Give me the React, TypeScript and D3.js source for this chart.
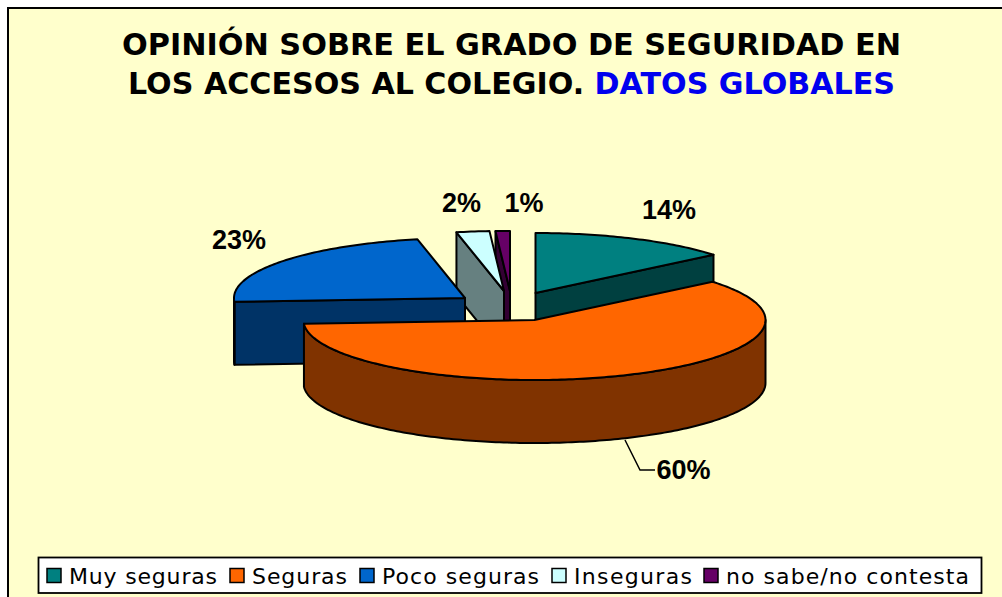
import React from "react";
import * as d3 from "d3";

const categories = ["Muy seguras", "Seguras", "Poco seguras", "Inseguras", "no sabe/no contesta"];
const values = [14, 60, 22.7, 2.3, 1];
const topColors = ["#008080", "#FF6600", "#0066CC", "#CCFFFF", "#660066"];
const sideColors = ["#004040", "#803300", "#003366", "#668080", "#330033"];

const titleLine1 = "OPINIÓN SOBRE EL GRADO DE SEGURIDAD EN";
const titleLine2a = "LOS ACCESOS AL COLEGIO. ";
const titleLine2b = "DATOS GLOBALES";

const W = 1002;
const H = 597;
const RX = 231;
const RY = 60;
const DEPTH = 63;
const centers: [number, number][] = [[535.5, 293], [534.5, 320], [465, 298], [504, 291], [510, 291]];
const paintOrder = [0, 4, 3, 2, 1];
const labelPos: [number, number][] = [[669, 219], [683.5, 479], [239, 249], [461.5, 212], [524, 212]];
const legendSwatchX = [47, 230, 360, 552, 704];
const legendTextX = [69, 252, 382, 574, 726];
const legendTextW = [148, 95, 157, 118, 243];

const arcs = d3
  .pie<number>()
  .sort(null)
  .value((d) => d)(values);

const line = d3
  .line<[number, number]>()
  .x((d) => d[0])
  .y((d) => d[1]);

const rimPoint = (c: [number, number], a: number, dy = 0): [number, number] => [
  c[0] + RX * Math.sin(a),
  c[1] - RY * Math.cos(a) + dy,
];

const sample = (a0: number, a1: number) => {
  const n = Math.max(2, Math.ceil(((a1 - a0) / Math.PI) * 180));
  return d3.range(n + 1).map((i) => a0 + ((a1 - a0) * i) / n);
};

function Slice({ i }: { i: number }) {
  const { startAngle: a0, endAngle: a1 } = arcs[i];
  const c = centers[i];
  const stroke = { stroke: "#000", strokeWidth: 2, strokeLinejoin: "round" as const };
  const walls: string[] = [];
  const edge = (a: number) =>
    line([c, rimPoint(c, a), rimPoint(c, a, DEPTH), [c[0], c[1] + DEPTH]]) + "Z";
  if (Math.sin(a0) < -1e-6) walls.push(edge(a0));
  if (Math.sin(a1) > 1e-6) walls.push(edge(a1));
  const r0 = Math.max(a0, Math.PI / 2);
  const r1 = Math.min(a1, (3 * Math.PI) / 2);
  if (r1 > r0) {
    const angles = sample(r0, r1);
    const top = angles.map((a) => rimPoint(c, a));
    const bottom = angles.map((a) => rimPoint(c, a, DEPTH)).reverse();
    walls.push(line([...top, ...bottom]) + "Z");
  }
  const face = line([c, ...sample(a0, a1).map((a) => rimPoint(c, a))]) + "Z";
  return (
    <g>
      {walls.map((d, k) => (
        <path key={k} d={d} fill={sideColors[i]} {...stroke} />
      ))}
      <path d={face} fill={topColors[i]} {...stroke} />
    </g>
  );
}

export default function App() {
  const labelFont = { fontFamily: "'Liberation Sans', Arial, sans-serif", fontWeight: 700, fontSize: 27 };
  const titleFont = { fontFamily: "'DejaVu Sans', Verdana, sans-serif", fontWeight: 700, fontSize: 31 };
  return (
    <svg
      width={W}
      height={H}
      viewBox={`0 0 ${W} ${H}`}
      style={{ position: "absolute", left: 0, top: 0, display: "block" }}
    >
      <rect width={W} height={H} fill="#fff" />
      <rect x={8} y={8} width={W + 40} height={H + 40} fill="#FFFFCC" stroke="#000" strokeWidth={2} />

      <text x={511.5} y={55} textAnchor="middle" textLength={779} lengthAdjust="spacingAndGlyphs" {...titleFont}>
        {titleLine1}
      </text>
      <text x={128} y={93.5} textLength={767} lengthAdjust="spacingAndGlyphs" {...titleFont} xmlSpace="preserve">
        <tspan>{titleLine2a}</tspan>
        <tspan fill="#0000EE">{titleLine2b}</tspan>
      </text>

      {paintOrder.map((i) => (
        <Slice key={i} i={i} />
      ))}

      <path d="M625,440L640,470L655,470" fill="none" stroke="#000" strokeWidth={1.5} />
      {values.map((v, i) => (
        <text key={i} x={labelPos[i][0]} y={labelPos[i][1]} textAnchor="middle" {...labelFont}>
          {`${Math.round(v)}%`}
        </text>
      ))}

      <rect x={38.5} y={557.5} width={943} height={35.5} fill="#fff" stroke="#000" strokeWidth={1.8} />
      {categories.map((name, i) => (
        <g key={name}>
          <rect x={legendSwatchX[i]} y={568.5} width={14} height={14} fill={topColors[i]} stroke="#000" strokeWidth={1.5} />
          <text
            x={legendTextX[i]}
            y={584}
            textLength={legendTextW[i]}
            lengthAdjust="spacing"
            fontFamily="'DejaVu Sans', Verdana, sans-serif"
            fontSize={22}
            fill="#000"
          >
            {name}
          </text>
        </g>
      ))}
    </svg>
  );
}
